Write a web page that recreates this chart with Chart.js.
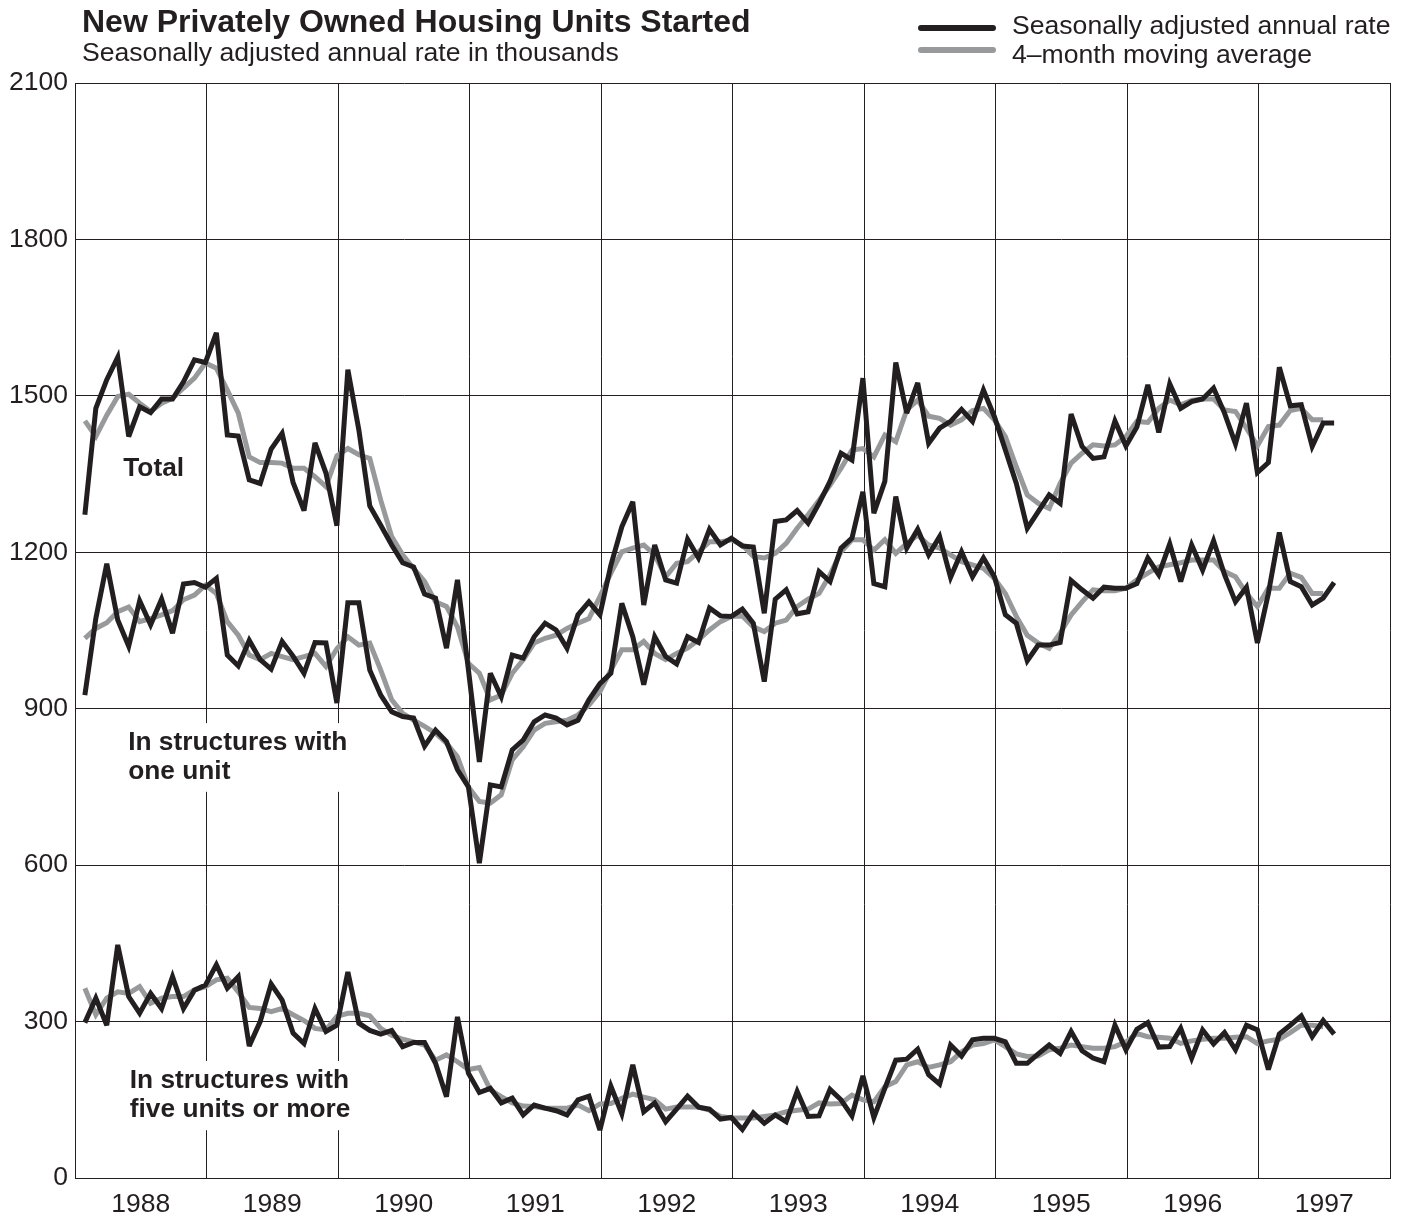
<!DOCTYPE html>
<html>
<head>
<meta charset="utf-8">
<title>New Privately Owned Housing Units Started</title>
<script src="https://cdn.jsdelivr.net/npm/chart.js@4.4.1/dist/chart.umd.min.js"></script>
<style>
  html, body { margin: 0; padding: 0; background: #fff; }
  #wrap { position: relative; width: 1408px; height: 1217px; overflow: hidden;
          font-family: "Liberation Sans", Arial, Helvetica, sans-serif; color: #231f20; }
  #wrap canvas { position: absolute; left: 0; top: 0; }
  .txt { position: absolute; white-space: nowrap; line-height: 1; }
  .swatch { position: absolute; height: 6px; border-radius: 3px; }
</style>
</head>
<body>
<div id="wrap">
  <canvas id="chart" width="1408" height="1217"></canvas>
  <div class="txt" style="left:82px;top:5px;font-size:32px;font-weight:bold;">New Privately Owned Housing Units Started</div>
  <div class="txt" style="left:82px;top:39px;font-size:26.6px;">Seasonally adjusted annual rate in thousands</div>
  <div class="swatch" style="left:918px;top:25px;width:78px;background:#231f20;"></div>
  <div class="swatch" style="left:918px;top:47px;width:78px;background:#97999b;"></div>
  <div class="txt" style="left:1012px;top:12px;font-size:26.6px;">Seasonally adjusted annual rate</div>
  <div class="txt" style="left:1012px;top:41px;font-size:26.6px;">4–month moving average</div>
</div>
<script>
// monthly values, Jan 1988 onward (thousands, SAAR)
const firstYear = 1988;
const yTicks = [0, 300, 600, 900, 1200, 1500, 1800, 2100];

const total = [
  1272, 1476, 1531, 1574, 1422, 1479, 1468, 1494, 1494, 1527, 1569, 1564,
  1621, 1425, 1423, 1339, 1332, 1398, 1428, 1334, 1280, 1410, 1352, 1251,
  1550, 1435, 1289, 1252, 1214, 1180, 1172, 1120, 1112, 1016, 1147, 975,
  798, 968, 923, 1003, 997, 1038, 1064, 1051, 1016, 1080, 1105, 1080,
  1175, 1249, 1297, 1099, 1214, 1147, 1141, 1225, 1189, 1244, 1214, 1227,
  1212, 1210, 1083, 1259, 1262, 1280, 1256, 1294, 1336, 1390, 1377, 1534,
  1275, 1336, 1564, 1467, 1525, 1409, 1438, 1451, 1474, 1451, 1511, 1460,
  1396, 1332, 1246, 1278, 1310, 1294, 1465, 1403, 1380, 1383, 1452, 1404,
  1440, 1521, 1430, 1523, 1476, 1489, 1494, 1515, 1467, 1408, 1486, 1353,
  1372, 1555, 1481, 1483, 1403, 1448, 1448
];
const totalAvg = [
  1452, 1422, 1463, 1499, 1503, 1486, 1470, 1486, 1495, 1515, 1534, 1563,
  1553, 1511, 1467, 1383, 1372, 1372, 1371, 1361, 1361, 1345, 1326, 1385,
  1399, 1387, 1380, 1300, 1230, 1195, 1169, 1144, 1105, 1096, 1057, 987,
  968, 917, 926, 968, 994, 1026, 1035, 1041, 1054, 1064, 1073, 1115,
  1160, 1201, 1208, 1214, 1195, 1153, 1179, 1182, 1201, 1220, 1220, 1224,
  1214, 1192, 1189, 1198, 1217, 1246, 1272, 1300, 1329, 1361, 1396, 1399,
  1383, 1425, 1412, 1473, 1492, 1461, 1457, 1444, 1454, 1472, 1476, 1454,
  1422, 1364, 1310, 1294, 1284, 1332, 1371, 1390, 1406, 1404, 1406, 1422,
  1451, 1449, 1476, 1492, 1483, 1491, 1494, 1494, 1473, 1470, 1438, 1404,
  1441, 1444, 1472, 1476, 1454, 1454
];
const oneUnit = [
  926, 1073, 1178, 1070, 1020, 1107, 1061, 1110, 1045, 1139, 1142, 1133,
  1150, 1003, 982, 1031, 994, 976, 1029, 1001, 968, 1027, 1026, 911,
  1103, 1103, 974, 926, 894, 885, 882, 828, 859, 837, 783, 750,
  604, 754, 750, 821, 840, 875, 888, 882, 869, 878, 917, 948,
  968, 1102, 1038, 946, 1038, 1000, 986, 1038, 1027, 1093, 1078, 1077,
  1091, 1064, 952, 1110, 1128, 1082, 1086, 1163, 1144, 1208, 1227, 1316,
  1140, 1134, 1307, 1208, 1244, 1195, 1230, 1152, 1201, 1153, 1189, 1153,
  1080, 1064, 992, 1022, 1022, 1027, 1146, 1128, 1112, 1133, 1131, 1131,
  1140, 1189, 1157, 1216, 1144, 1214, 1166, 1222, 1157, 1105, 1133, 1026,
  1121, 1238, 1144, 1134, 1099, 1112, 1142
];
const oneUnitAvg = [
  1035, 1054, 1065, 1086, 1095, 1067, 1073, 1080, 1088, 1109, 1118, 1137,
  1121, 1067, 1041, 1003, 994, 1006, 1000, 994, 1000, 1006, 981, 1015,
  1038, 1022, 1026, 974, 917, 891, 878, 866, 853, 834, 808, 750,
  722, 719, 735, 802, 827, 859, 872, 875, 878, 888, 907, 933,
  974, 1013, 1013, 1029, 1006, 994, 1006, 1016, 1032, 1051, 1067, 1077,
  1078, 1057, 1048, 1064, 1070, 1096, 1110, 1121, 1157, 1201, 1224, 1224,
  1204, 1224, 1198, 1217, 1233, 1214, 1208, 1195, 1182, 1176, 1169, 1150,
  1121, 1077, 1041, 1026, 1016, 1045, 1080, 1105, 1128, 1126, 1126, 1131,
  1147, 1160, 1172, 1176, 1180, 1185, 1185, 1185, 1163, 1153, 1121, 1096,
  1131, 1131, 1160, 1152, 1121, 1121
];
const fivePlus = [
  298, 345, 293, 447, 348, 316, 354, 325, 386, 325, 360, 370,
  409, 364, 386, 253, 300, 372, 341, 278, 258, 325, 281, 293,
  395, 297, 283, 276, 283, 252, 260, 260, 220, 156, 309, 201,
  164, 172, 144, 153, 121, 140, 134, 129, 121, 150, 157, 92,
  176, 123, 217, 127, 144, 108, 132, 157, 136, 132, 113, 116,
  93, 125, 105, 121, 108, 166, 118, 119, 170, 150, 119, 196,
  116, 172, 226, 228, 247, 198, 180, 255, 234, 265, 268, 268,
  261, 220, 220, 238, 255, 239, 281, 244, 230, 223, 293, 246,
  285, 298, 251, 252, 287, 230, 284, 257, 279, 246, 293, 284,
  208, 276, 293, 311, 271, 302, 276
];
const fivePlusAvg = [
  364, 313, 345, 357, 354, 367, 335, 345, 348, 348, 361, 367,
  380, 383, 357, 327, 325, 319, 325, 313, 302, 287, 284, 310,
  316, 316, 311, 287, 274, 266, 261, 255, 226, 236, 223, 208,
  212, 169, 156, 144, 138, 137, 134, 134, 134, 140, 129, 142,
  143, 153, 161, 155, 150, 132, 136, 136, 136, 130, 118, 115,
  115, 115, 118, 121, 127, 130, 132, 144, 142, 143, 159, 150,
  146, 175, 185, 217, 223, 212, 217, 223, 242, 255, 258, 265,
  252, 238, 233, 234, 246, 249, 255, 252, 249, 249, 252, 261,
  277, 271, 270, 268, 258, 263, 266, 268, 268, 270, 271, 258,
  263, 266, 279, 293, 293, 290
];

const INK = '#231f20';
const GREY = '#97999b';
const FONT = '"Liberation Sans", Arial, Helvetica, sans-serif';

// month index -> x position (each point sits near the end of its month)
const pts = arr => arr.map((v, i) => ({ x: i + 0.9, y: v }));

function series(arr, color, order) {
  return {
    data: pts(arr),
    borderColor: color,
    borderWidth: 5,
    borderJoinStyle: 'miter',
    borderCapStyle: 'butt',
    pointRadius: 0,
    tension: 0,
    fill: false,
    order: order
  };
}

// labels written inside the plot, on a white patch that hides the grid
const notes = [
  { lines: ['Total'], month: 4.4, values: [1360] },
  { lines: ['In structures with', 'one unit'], month: 4.85, values: [834, 779] },
  { lines: ['In structures with', 'five units or more'], month: 5.0, values: [186, 130] }
];

const notePlugin = {
  id: 'notes',
  beforeDatasetsDraw(chart) {
    const { ctx, scales: { x, y } } = chart;
    ctx.save();
    ctx.font = 'bold 26.3px ' + FONT;
    ctx.textBaseline = 'middle';
    ctx.textAlign = 'left';
    notes.forEach(n => {
      const left = x.getPixelForValue(n.month);
      const ys = n.values.map(v => y.getPixelForValue(v));
      const w = Math.max(...n.lines.map(s => ctx.measureText(s).width));
      ctx.fillStyle = '#fff';
      ctx.fillRect(left - 8, ys[0] - 20, w + 16, ys[ys.length - 1] - ys[0] + 40);
      ctx.fillStyle = INK;
      n.lines.forEach((s, k) => ctx.fillText(s, left, ys[k]));
    });
    ctx.restore();
    // keep the sharp spikes from growing long miter tips
    ctx.miterLimit = 3.5;
  }
};

new Chart(document.getElementById('chart'), {
  type: 'line',
  data: {
    datasets: [
      series(totalAvg, GREY, 1),
      series(oneUnitAvg, GREY, 1),
      series(fivePlusAvg, GREY, 1),
      series(total, INK, 0),
      series(oneUnit, INK, 0),
      series(fivePlus, INK, 0)
    ]
  },
  options: {
    responsive: false,
    animation: false,
    events: [],
    layout: { padding: { top: 83, right: 18, bottom: 0, left: 0 } },
    plugins: { legend: { display: false }, title: { display: false }, tooltip: { enabled: false } },
    scales: {
      x: {
        type: 'linear',
        min: 0,
        max: 120,
        afterFit(scale) { scale.height = 39; },
        afterBuildTicks(scale) {
          scale.ticks = [];
          for (let m = 0; m <= 120; m += 6) scale.ticks.push({ value: m });
        },
        grid: {
          drawTicks: false,
          color: c => (c.tick && c.tick.value % 12 === 0) ? INK : 'rgba(0,0,0,0)',
          lineWidth: 1
        },
        border: { display: true, color: INK, width: 1 },
        ticks: {
          autoSkip: false,
          maxRotation: 0,
          padding: 11,
          color: INK,
          font: { family: FONT, size: 26.5 },
          callback: v => (v % 12 === 6) ? String(firstYear + (v - 6) / 12) : ''
        }
      },
      y: {
        min: 0,
        max: 2100,
        afterFit(scale) { scale.width = 75; },
        afterBuildTicks(scale) { scale.ticks = yTicks.map(v => ({ value: v })); },
        grid: { drawTicks: false, color: INK, lineWidth: 1 },
        border: { display: true, color: INK, width: 1 },
        ticks: {
          padding: 7,
          color: INK,
          font: { family: FONT, size: 26.5 },
          callback: v => String(v)
        }
      }
    }
  },
  plugins: [notePlugin]
});
</script>
</body>
</html>
